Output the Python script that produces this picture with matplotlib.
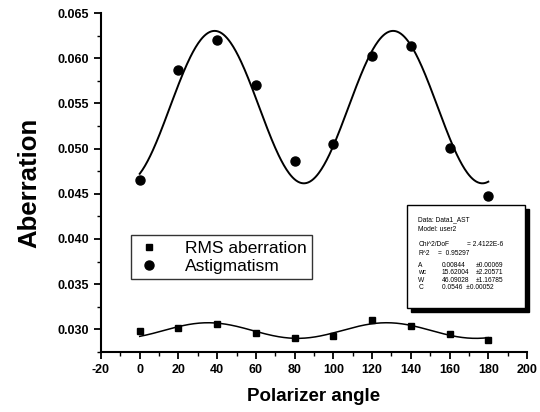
import numpy as np
import matplotlib.pyplot as plt
from matplotlib.patches import Rectangle
from matplotlib.ticker import MultipleLocator

plt.rcParams['font.family'] = ['Liberation Sans Narrow', 'Liberation Sans', 'DejaVu Sans']
plt.rcParams['axes.unicode_minus'] = False

angle = [0, 20, 40, 60, 80, 100, 120, 140, 160, 180]
rms = [0.0298, 0.0301, 0.0306, 0.0296, 0.0290, 0.0292, 0.0310, 0.0304, 0.0295, 0.0288]
astig = [0.0465, 0.0587, 0.0620, 0.0571, 0.0486, 0.0505, 0.0603, 0.0614, 0.0501, 0.0448]

# fit parameters reported in the Origin box (model user2: y = C + A*sin(pi*(x-wc)/W))
fitA, fitWc, fitW, fitC = 0.00844, 15.62004, 46.09028, 0.0546

xs = np.linspace(0, 180, 400)
astig_fit = fitC + fitA * np.sin(np.pi * (xs - fitWc) / fitW)

# same model for the RMS series, least squares with the period fixed
xa = np.array(angle, dtype=float)
basis = np.column_stack([np.ones_like(xa), np.sin(np.pi * xa / fitW), np.cos(np.pi * xa / fitW)])
coef = np.linalg.lstsq(basis, np.array(rms), rcond=None)[0]
rms_fit = coef[0] + coef[1] * np.sin(np.pi * xs / fitW) + coef[2] * np.cos(np.pi * xs / fitW)

fig = plt.figure(figsize=(5.4, 4.12), dpi=100)
ax = fig.add_axes([0.187, 0.146, 0.789, 0.822])

ax.plot(xs, astig_fit, color='black', linewidth=1.4)
ax.plot(xs, rms_fit, color='black', linewidth=1.1)
ax.plot(angle, rms, 's', color='black', markersize=5, label='RMS aberration')
ax.plot(angle, astig, 'o', color='black', markersize=6.5, label='Astigmatism')

ax.set_xlim(-20, 200)
ax.set_ylim(0.0275, 0.065)
ax.xaxis.set_major_locator(MultipleLocator(20))
ax.xaxis.set_minor_locator(MultipleLocator(10))
ax.yaxis.set_major_locator(MultipleLocator(0.005))
ax.yaxis.set_minor_locator(MultipleLocator(0.0025))
ax.yaxis.set_major_formatter(plt.FuncFormatter(lambda v, p: '%.3f' % v))
ax.tick_params(which='major', direction='out', length=5, width=1.3, labelsize=9)
ax.tick_params(which='minor', direction='out', length=3, width=1.0)
for lab in ax.get_xticklabels() + ax.get_yticklabels():
    lab.set_fontweight('bold')

for s in ['top', 'right']:
    ax.spines[s].set_visible(False)
for s in ['left', 'bottom']:
    ax.spines[s].set_linewidth(1.5)

ax.set_xlabel('Polarizer angle', fontsize=13.5, fontweight='bold', labelpad=9)
ax.set_ylabel('Aberration', fontsize=18.5, fontweight='bold', labelpad=12)

leg = ax.legend(loc='upper left', bbox_to_anchor=(0.05, 0.37), fontsize=12.5,
                frameon=True, fancybox=False, edgecolor='black', handletextpad=1.3,
                borderpad=0.3, labelspacing=0.2, handlelength=1.5)
leg.get_frame().set_linewidth(1.0)

# Origin fit result box with shadow
bx, by, bw, bh = 0.718, 0.130, 0.277, 0.304
ax.add_patch(Rectangle((bx + 0.01, by - 0.012), bw, bh, transform=ax.transAxes,
                       facecolor='black', edgecolor='black', zorder=5, clip_on=False))
ax.add_patch(Rectangle((bx, by), bw, bh, transform=ax.transAxes,
                       facecolor='white', edgecolor='black', linewidth=1.0, zorder=6, clip_on=False))

rows = [
    (0.389, [('Data: Data1_AST', 0.745)]),
    (0.362, [('Model: user2', 0.745)]),
    (0.318, [('Chi^2/DoF', 0.745), ('= 2.4122E-6', 0.86)]),
    (0.291, [('R^2', 0.745), ('=  0.95297', 0.79)]),
    (0.256, [('A', 0.745), ('0.00844', 0.80), ('\u00b10.00069', 0.88)]),
    (0.233, [('wc', 0.745), ('15.62004', 0.80), ('\u00b12.20571', 0.88)]),
    (0.212, [('W', 0.745), ('46.09028', 0.80), ('\u00b11.16785', 0.88)]),
    (0.191, [('C', 0.745), ('0.0546  \u00b10.00052', 0.80)]),
]
for yy, items in rows:
    for txt, xx in items:
        ax.text(xx, yy, txt, transform=ax.transAxes, fontsize=4.8, va='center',
                ha='left', zorder=7)

plt.savefig('out.png', dpi=100)
